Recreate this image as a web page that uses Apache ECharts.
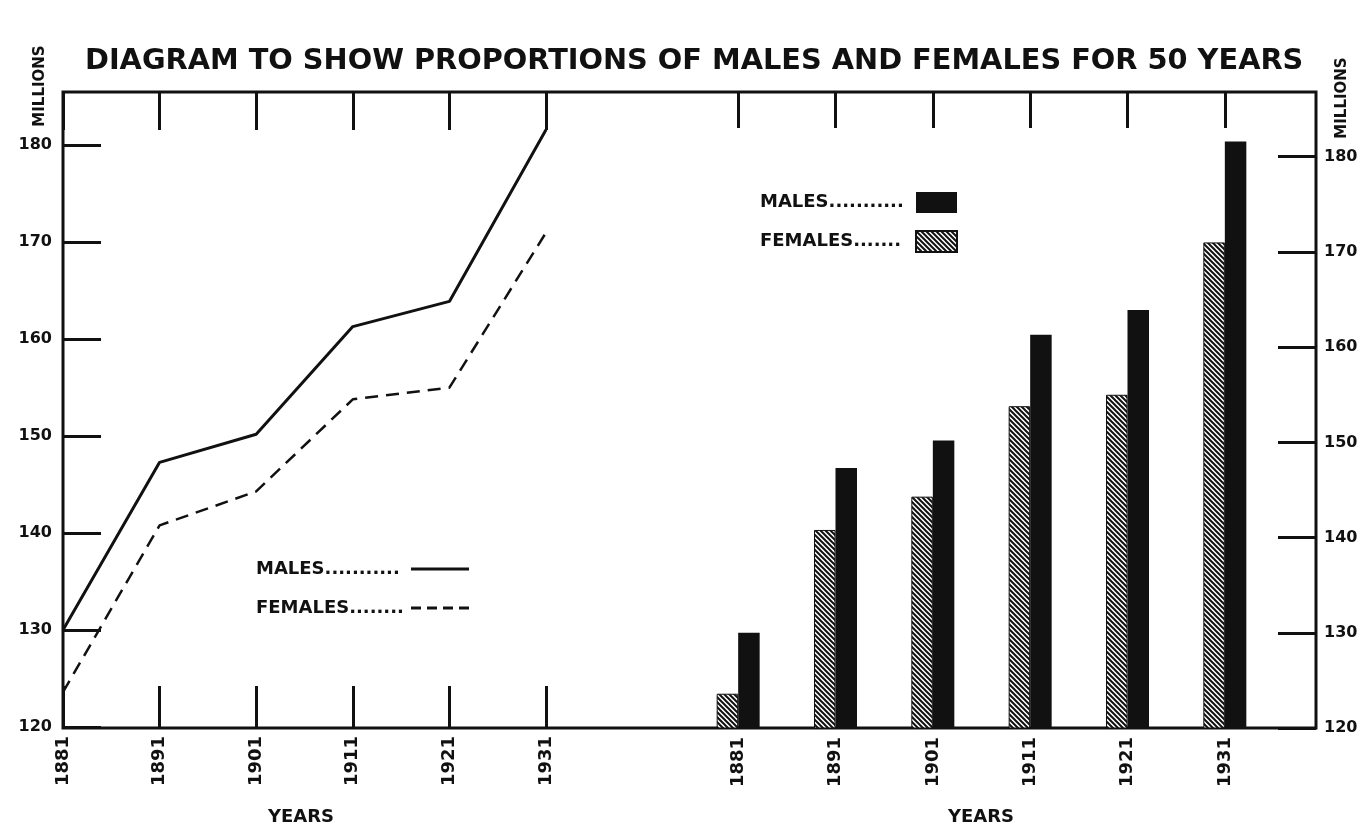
<!DOCTYPE html>
<html>
<head>
<meta charset="utf-8">
<script src="https://cdn.jsdelivr.net/npm/echarts@6/dist/echarts.min.js"></script>
<style>
  html, body { margin: 0; padding: 0; background: #fff; }
  #chart { width: 1370px; height: 827px; }
</style>
</head>
<body>
<div id="chart"></div>
<script>
// Census years and population (millions)
const years = ['1881', '1891', '1901', '1911', '1921', '1931'];
const males = [130.0, 147.3, 150.2, 161.3, 163.9, 181.6];
const females = [123.6, 140.8, 144.3, 153.8, 155.0, 171.0];
const yMin = 120;
const yStep = 10;

const INK = '#111';
const FONT = 'DejaVu Sans';

// diagonal hatching used for the female bars
function hatch() {
  const s = 5;
  const c = document.createElement('canvas');
  c.width = s; c.height = s;
  const g = c.getContext('2d');
  g.fillStyle = '#fff';
  g.fillRect(0, 0, s, s);
  g.strokeStyle = INK;
  g.lineWidth = 2;
  g.beginPath();
  g.moveTo(-1, -1); g.lineTo(s + 1, s + 1);
  g.moveTo(-1, s - 1); g.lineTo(1, s + 1);
  g.moveTo(s - 1, -1); g.lineTo(s + 1, 1);
  g.stroke();
  return c;
}
const hatchFill = { image: hatch(), repeat: 'repeat' };

// legend captions, dotted out to the key
const labelText = {
  'males-line': 'MALES...........',
  'females-line': 'FEMALES........',
  'males-bar': 'MALES...........',
  'females-bar': 'FEMALES.......'
};

const tickStyle = { lineStyle: { color: INK, width: 3 } };
const valueLabel = (margin) => ({
  color: INK, fontFamily: FONT, fontWeight: 'bold', fontSize: 16,
  margin: margin, showMaxLabel: false,
  formatter: v => (v % yStep === 0 ? String(v) : '')
});
const yearLabel = {
  rotate: 90, color: INK, fontFamily: FONT, fontWeight: 'bold',
  fontSize: 18, margin: 9
};
const legendText = (w) => ({
  color: INK, fontFamily: FONT, fontWeight: 'bold', fontSize: 18,
  rich: { t: { width: w, align: 'left', color: INK, fontFamily: FONT,
               fontWeight: 'bold', fontSize: 18 } }
});

const solidKey = 'path://M0,0h58v3h-58z';
const dashKey = 'path://M0,0h10v3h-10z M16,0h10v3h-10z M32,0h10v3h-10z M48,0h10v3h-10z';

const chart = echarts.init(document.getElementById('chart'), null, { renderer: 'canvas' });

chart.setOption({
  backgroundColor: '#fff',
  animation: false,
  title: {
    text: 'DIAGRAM TO SHOW PROPORTIONS OF MALES AND FEMALES FOR 50 YEARS',
    left: 85, top: 47, padding: 0,
    textStyle: { color: INK, fontFamily: FONT, fontWeight: 'bold', fontSize: 28.8 }
  },
  grid: [
    // outer frame
    { left: 63, top: 92, width: 1253, height: 636, show: true,
      borderColor: INK, borderWidth: 3, backgroundColor: 'transparent' },
    // line diagram
    { left: 63, top: 92, width: 483, height: 635 },
    // bar diagram
    { left: 689.5, top: 92, width: 584, height: 636 }
  ],
  xAxis: [
    { gridIndex: 0, type: 'value', show: false, min: 0, max: 1 },
    { gridIndex: 1, type: 'category', data: years, boundaryGap: false,
      axisLine: { show: false },
      axisTick: { show: true, inside: true, length: 41, ...tickStyle },
      axisLabel: yearLabel },
    { gridIndex: 1, type: 'category', data: years, boundaryGap: false, position: 'top',
      axisLine: { show: false },
      axisTick: { show: true, inside: true, length: 38, ...tickStyle },
      axisLabel: { show: false } },
    { gridIndex: 2, type: 'category', data: years, boundaryGap: true,
      axisLine: { show: false }, axisTick: { show: false },
      axisLabel: yearLabel },
    { gridIndex: 2, type: 'category', data: years, boundaryGap: true, position: 'top',
      axisLine: { show: false },
      axisTick: { show: true, inside: true, length: 36, alignWithLabel: true, ...tickStyle },
      axisLabel: { show: false } }
  ],
  yAxis: [
    { gridIndex: 0, type: 'value', show: false, min: 0, max: 1 },
    { gridIndex: 1, type: 'value', min: yMin, max: 185.5, interval: yStep,
      axisLine: { show: false }, splitLine: { show: false },
      axisTick: { show: true, inside: true, length: 38, ...tickStyle },
      axisLabel: valueLabel(11) },
    { gridIndex: 2, type: 'value', position: 'right', offset: 42.5,
      min: yMin, max: 186.8, interval: yStep,
      axisLine: { show: false }, splitLine: { show: false },
      axisTick: { show: true, inside: true, length: 38, ...tickStyle },
      axisLabel: valueLabel(8) }
  ],
  legend: [
    { data: [{ name: 'males-line', icon: solidKey }, { name: 'females-line', icon: dashKey }],
      orient: 'vertical', align: 'right',
      left: 256, top: 560, padding: 0, itemGap: 21, itemWidth: 58, itemHeight: 3,
      selectedMode: false, formatter: n => '{t|' + labelText[n] + '}',
      itemStyle: { color: INK, borderWidth: 0 },
      textStyle: legendText(150) },
    { data: ['males-bar', 'females-bar'], orient: 'vertical', align: 'right',
      left: 760, top: 192, padding: 0, itemGap: 17, itemWidth: 41, itemHeight: 21,
      icon: 'rect', selectedMode: false, formatter: n => '{t|' + labelText[n] + '}',
      textStyle: legendText(151) }
  ],
  series: [
    { name: 'males-line', type: 'line', xAxisIndex: 1, yAxisIndex: 1,
      data: males, symbol: 'none', color: INK,
      lineStyle: { color: INK, width: 3 } },
    { name: 'females-line', type: 'line', xAxisIndex: 1, yAxisIndex: 1,
      data: females, symbol: 'none', color: INK,
      lineStyle: { color: INK, width: 2.5, type: [13, 8] } },
    { name: 'females-bar', type: 'bar', xAxisIndex: 3, yAxisIndex: 2,
      data: females, barWidth: 21.5, barGap: '0%',
      itemStyle: { color: hatchFill, borderColor: INK, borderWidth: 1 } },
    { name: 'males-bar', type: 'bar', xAxisIndex: 3, yAxisIndex: 2,
      data: males, barWidth: 21.5, barGap: '0%',
      itemStyle: { color: INK } }
  ],
  graphic: [
    { type: 'text', x: 40, y: 86, rotation: Math.PI / 2,
      style: { text: 'MILLIONS', fill: INK, align: 'center', verticalAlign: 'middle',
               font: 'bold 15px "DejaVu Sans"' } },
    { type: 'text', x: 1342, y: 98, rotation: Math.PI / 2,
      style: { text: 'MILLIONS', fill: INK, align: 'center', verticalAlign: 'middle',
               font: 'bold 15px "DejaVu Sans"' } },
    { type: 'text', x: 301, y: 817,
      style: { text: 'YEARS', fill: INK, align: 'center', verticalAlign: 'middle',
               font: 'bold 18px "DejaVu Sans"' } },
    { type: 'text', x: 981, y: 817,
      style: { text: 'YEARS', fill: INK, align: 'center', verticalAlign: 'middle',
               font: 'bold 18px "DejaVu Sans"' } }
  ]
});
</script>
</body>
</html>
